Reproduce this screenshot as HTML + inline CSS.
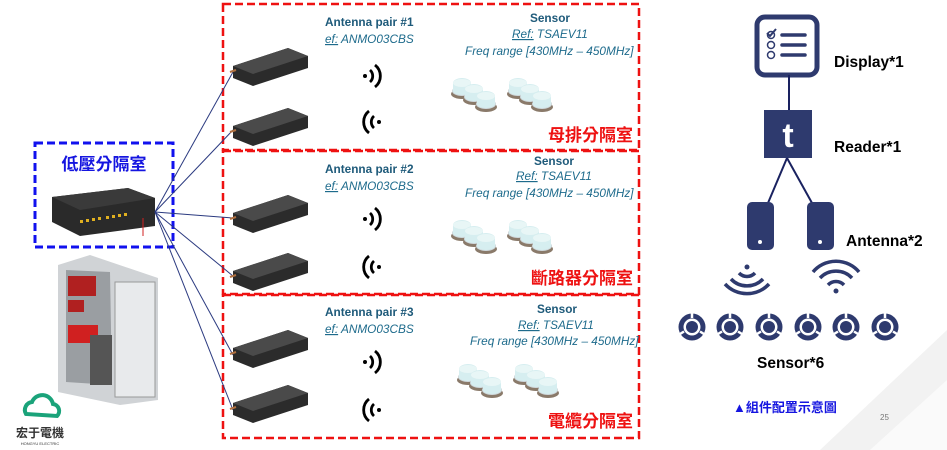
<!DOCTYPE html>
<html><head><meta charset="utf-8"><style>
body{margin:0;background:#fff;width:947px;height:450px;overflow:hidden}
svg{display:block}
.t{font-family:"Liberation Sans","Noto Sans CJK TC",sans-serif}
.tl{font-family:"Liberation Sans",sans-serif;fill:#1e6b8c;font-size:11.8px;font-style:italic}
.tb{font-family:"Liberation Sans",sans-serif;fill:#1e5a7a;font-size:11.8px;font-weight:bold}
.rl{font-family:"Liberation Sans","Noto Sans CJK TC",sans-serif;fill:#ee1111;font-size:17px;font-weight:bold}
.bl{font-family:"Liberation Sans",sans-serif;font-size:15.5px;font-weight:bold;fill:#000}
</style></head><body>
<svg width="947" height="450" viewBox="0 0 947 450" xmlns="http://www.w3.org/2000/svg">
<defs>
<g id="ant">
 <path d="M0,18 L55,0 L75,8 L75,20 L20,38 L0,30 Z" fill="#2b2b2b"/>
 <path d="M0,18 L55,0 L75,8 L20,26 Z" fill="#4a4a4a"/>
 <path d="M-3,24 l6,-2" stroke="#b07040" stroke-width="2"/>
</g>
<g id="sen">
 <ellipse cx="0" cy="8" rx="11" ry="5" fill="#8a7a6a"/>
 <ellipse cx="0" cy="5" rx="10" ry="5" fill="#cfd8dc"/>
 <path d="M-9,5 v-8 a9,5 0 0 1 18,0 v8 a9,4 0 0 1 -18,0z" fill="#d6eef0"/>
 <ellipse cx="0" cy="-3" rx="9" ry="4" fill="#e8f6f6"/>
</g>
<g id="sgrp">
 <use href="#sen" x="0" y="0"/><use href="#sen" x="12" y="6"/><use href="#sen" x="24" y="13"/>
 <use href="#sen" x="56" y="0"/><use href="#sen" x="68" y="6"/><use href="#sen" x="80" y="13"/>
</g>
<g id="wr"><circle cx="0" cy="0" r="2" fill="#000"/>
 <path d="M5,-6 a8,8 0 0 1 0,12" stroke="#000" stroke-width="2.8" fill="none"/>
 <path d="M10,-11 a14,14 0 0 1 0,22" stroke="#000" stroke-width="2.8" fill="none"/></g>
<g id="wl"><circle cx="0" cy="0" r="2" fill="#000"/>
 <path d="M-5,-6 a8,8 0 0 0 0,12" stroke="#000" stroke-width="2.8" fill="none"/>
 <path d="M-10,-11 a14,14 0 0 0 0,22" stroke="#000" stroke-width="2.8" fill="none"/></g>
<g id="sc"><circle r="13.5" fill="#2e3a6e"/><circle r="8.5" fill="#fff"/><circle r="6" fill="#2e3a6e"/>
 <path d="M0,-14 v5 M-12,7 l4,-2.5 M12,7 l-4,-2.5" stroke="#fff" stroke-width="2.5"/></g>
</defs>
<path d="M820,450 L947,330 L947,450Z" fill="#f2f2f2"/>
<path d="M870,450 L947,380 L947,450Z" fill="#fafafa"/>

<g fill="none" stroke="#ee1111" stroke-width="2.5" stroke-dasharray="8,4">
<rect x="223" y="4" width="416" height="146"/>
<rect x="223" y="151" width="416" height="143"/>
<rect x="223" y="295" width="416" height="143"/>
</g>
<rect x="35" y="143" width="138" height="104" fill="none" stroke="#1111ee" stroke-width="3" stroke-dasharray="8,4"/>
<text x="104" y="170" text-anchor="middle" class="t" font-size="17" font-weight="bold" fill="#1515e0">低壓分隔室</text>
<path d="M52,197 L128,188 L155,198 L155,226 L80,236 L52,222Z" fill="#2a2a2a"/>
<path d="M52,197 L128,188 L155,198 L80,210Z" fill="#3a3a3a"/>
<g fill="#e0b020"><rect x="80" y="220" width="3" height="3"/><rect x="86" y="219" width="3" height="3"/><rect x="92" y="218" width="3" height="3"/><rect x="98" y="217" width="3" height="3"/><rect x="106" y="216" width="3" height="3"/><rect x="112" y="215" width="3" height="3"/><rect x="118" y="214" width="3" height="3"/><rect x="124" y="213" width="3" height="3"/></g>
<path d="M143,218 v18" stroke="#d02020" stroke-width="1"/>
<path d="M58,265 L90,255 L158,278 L158,400 L120,405 L58,392Z" fill="#d0d3d6"/>
<path d="M66,270 L110,272 L112,385 L66,382Z" fill="#9a9ea2"/>
<rect x="68" y="276" width="28" height="20" fill="#b02020"/>
<rect x="68" y="300" width="16" height="12" fill="#b02020"/>
<rect x="68" y="325" width="30" height="18" fill="#d02020"/>
<rect x="115" y="282" width="40" height="115" fill="#e8eaec" stroke="#999"/>
<rect x="90" y="335" width="22" height="50" fill="#555"/>
<path d="M26,414 a8,8 0 0 1 6,-12 a11,11 0 0 1 21,2 a7,7 0 0 1 4,12 Z" fill="none" stroke="#1aa37a" stroke-width="4"/>
<text x="40" y="437" text-anchor="middle" class="t" font-size="12" font-weight="bold" fill="#333">宏于電機</text>
<text x="40" y="445" text-anchor="middle" class="t" font-size="4" fill="#333">HONGYU ELECTRIC</text>
<g stroke="#2b3a80" stroke-width="1">
<line x1="155" y1="212" x2="233" y2="72"/><line x1="155" y1="212" x2="233" y2="130"/>
<line x1="155" y1="212" x2="233" y2="218"/><line x1="155" y1="212" x2="233" y2="276"/>
<line x1="155" y1="212" x2="233" y2="355"/><line x1="155" y1="212" x2="233" y2="410"/>
</g>
<use href="#ant" x="233" y="48"/><use href="#ant" x="233" y="108"/>
<use href="#ant" x="233" y="195"/><use href="#ant" x="233" y="253"/>
<use href="#ant" x="233" y="330"/><use href="#ant" x="233" y="385"/>
<use href="#wr" x="365" y="76"/><use href="#wl" x="379" y="122"/>
<use href="#wr" x="365" y="219"/><use href="#wl" x="379" y="267"/>
<use href="#wr" x="365" y="362"/><use href="#wl" x="379" y="410"/>
<use href="#sgrp" x="462" y="86"/><use href="#sgrp" x="462" y="228"/><use href="#sgrp" x="468" y="372"/>
<text x="325" y="26" class="tb">Antenna pair #1</text>
<text x="325" y="43" class="tl"><tspan text-decoration="underline">ef:</tspan> ANMO03CBS</text>
<text x="530" y="22" class="tb">Sensor</text>
<text x="512" y="38" class="tl"><tspan text-decoration="underline">Ref:</tspan> TSAEV11</text>
<text x="465" y="55" class="tl">Freq range [430MHz – 450MHz]</text>
<text x="633" y="141" text-anchor="end" class="rl">母排分隔室</text>
<text x="325" y="173" class="tb">Antenna pair #2</text>
<text x="325" y="190" class="tl"><tspan text-decoration="underline">ef:</tspan> ANMO03CBS</text>
<text x="534" y="165" class="tb">Sensor</text>
<text x="516" y="180" class="tl"><tspan text-decoration="underline">Ref:</tspan> TSAEV11</text>
<text x="465" y="197" class="tl">Freq range [430MHz – 450MHz]</text>
<text x="633" y="284" text-anchor="end" class="rl">斷路器分隔室</text>
<text x="325" y="316" class="tb">Antenna pair #3</text>
<text x="325" y="333" class="tl"><tspan text-decoration="underline">ef:</tspan> ANMO03CBS</text>
<text x="537" y="313" class="tb">Sensor</text>
<text x="518" y="329" class="tl"><tspan text-decoration="underline">Ref:</tspan> TSAEV11</text>
<text x="470" y="345" class="tl">Freq range [430MHz – 450MHz]</text>
<text x="633" y="427" text-anchor="end" class="rl">電纜分隔室</text>

<rect x="757" y="17" width="60" height="58" rx="8" fill="#fff" stroke="#2e3a6e" stroke-width="5"/>
<g stroke="#2e3a6e" stroke-width="3.5" stroke-linecap="round"><line x1="782" y1="35" x2="805" y2="35"/><line x1="782" y1="45" x2="805" y2="45"/><line x1="782" y1="55" x2="805" y2="55"/></g>
<g fill="none" stroke="#2e3a6e" stroke-width="1.5"><circle cx="771" cy="35" r="3.5"/><circle cx="771" cy="45" r="3.5"/><circle cx="771" cy="55" r="3.5"/></g>
<path d="M767,33 l3,3 l6,-7" stroke="#2e3a6e" stroke-width="2" fill="none"/>
<line x1="789" y1="75" x2="789" y2="110" stroke="#1a2260" stroke-width="2"/>
<rect x="764" y="110" width="48" height="48" fill="#2e3a6e"/>
<text x="788" y="147" text-anchor="middle" font-family="Liberation Sans,sans-serif" font-size="34" font-weight="bold" fill="#fff">t</text>
<g stroke="#1a2260" stroke-width="2"><line x1="787" y1="158" x2="768" y2="203"/><line x1="787" y1="158" x2="812" y2="203"/></g>
<rect x="747" y="202" width="27" height="48" rx="5" fill="#2e3a6e"/><circle cx="760" cy="242" r="2" fill="#fff"/>
<rect x="807" y="202" width="27" height="48" rx="5" fill="#2e3a6e"/><circle cx="820" cy="242" r="2" fill="#fff"/>
<g fill="none" stroke="#2e3a6e" stroke-width="3.5">
<circle cx="747" cy="267" r="2.5" fill="#2e3a6e" stroke="none"/>
<path d="M739,273 a11,11 0 0 0 16,0"/><path d="M731,279 a22,22 0 0 0 32,0"/><path d="M725,284 a30,30 0 0 0 44,0"/>
<circle cx="836" cy="291" r="2.5" fill="#2e3a6e" stroke="none"/>
<path d="M828,285 a11,11 0 0 1 16,0"/><path d="M820,278 a22,22 0 0 1 32,0"/><path d="M813,272 a30,30 0 0 1 46,0"/>
</g>
<use href="#sc" x="692" y="327"/><use href="#sc" x="730" y="327"/><use href="#sc" x="769" y="327"/>
<use href="#sc" x="808" y="327"/><use href="#sc" x="846" y="327"/><use href="#sc" x="885" y="327"/>
<text x="834" y="67" class="bl">Display*1</text>
<text x="834" y="152" class="bl">Reader*1</text>
<text x="846" y="246" class="bl">Antenna*2</text>
<text x="757" y="368" class="bl">Sensor*6</text>
<text x="733" y="412" class="t" font-size="13" font-weight="bold" fill="#1515e0">▲組件配置示意圖</text>
<text x="880" y="420" class="t" font-size="8" fill="#777">25</text>
</svg>
</body></html>
